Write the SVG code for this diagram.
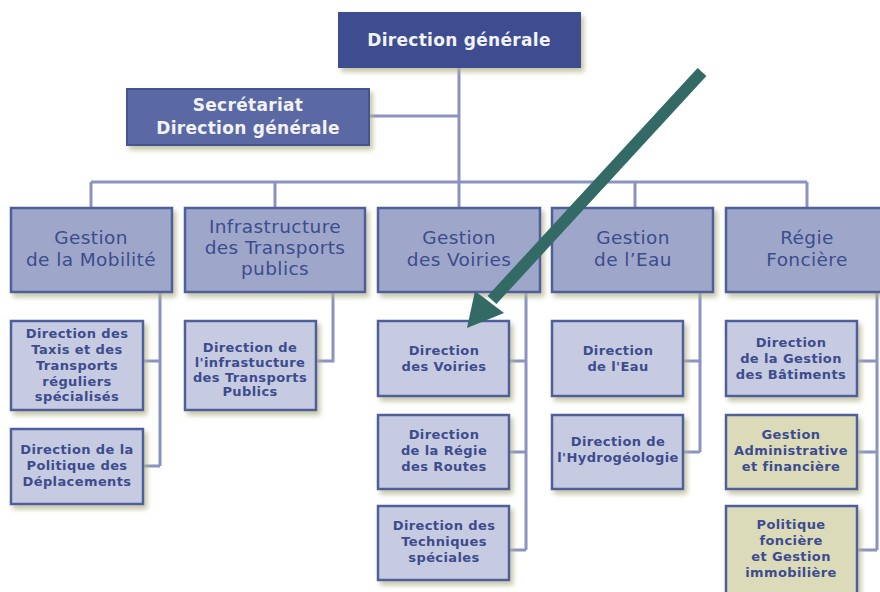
<svg xmlns="http://www.w3.org/2000/svg" width="880" height="592" viewBox="0 0 880 592">
<defs>
<filter id="sh" x="-10%" y="-10%" width="130%" height="140%">
<feDropShadow dx="3" dy="4" stdDeviation="2.5" flood-color="#b3b38a" flood-opacity="0.75"/>
</filter>
<style>
.top{fill:#3e4e90;filter:url(#sh)}
.sec{fill:#5a69a3;stroke:#45548f;stroke-width:2;filter:url(#sh)}
.l2{fill:#9ea7c9;stroke:#4f5f9e;stroke-width:2.5;filter:url(#sh)}
.l3{fill:#c6cbe1;stroke:#4f5f9e;stroke-width:2.5;filter:url(#sh)}
.l3b{fill:#dcdbb9;stroke:#4f5f9e;stroke-width:2.5;filter:url(#sh)}
.tw{font-family:"DejaVu Sans",Verdana,sans-serif;font-weight:bold;font-size:17px;letter-spacing:0.3px;fill:#f2f2f8;text-anchor:middle}
.t2{font-family:"DejaVu Sans",Verdana,sans-serif;font-size:18.5px;letter-spacing:0.4px;fill:#3c4c8e;text-anchor:middle}
.t3{font-family:"DejaVu Sans",Verdana,sans-serif;font-weight:bold;font-size:13px;letter-spacing:0.4px;fill:#3c4c8e;text-anchor:middle}
.c{fill:none;stroke:#8a93c1;stroke-width:3}
</style>
</defs>
<rect width="880" height="592" fill="#ffffff"/>
<g id="connectors">
<path class="c" d="M459 68 V182 M369 116 H459 M91 182 H807 M91 182 V208 M275 182 V208 M459 182 V208 M635 182 V208 M807 182 V208"/>
<path class="c" d="M160 292 V466 M143 361 H160 M143 466 H160"/>
<path class="c" d="M333 292 V361 H316"/>
<path class="c" d="M526 292 V550 M509 361 H526 M509 452 H526 M509 550 H526"/>
<path class="c" d="M700 292 V452 M683 361 H700 M683 452 H700"/>
<path class="c" d="M877 292 V550 M857 361 H877 M857 452 H877 M857 550 H877"/>
</g>
<g id="n-dg"><rect class="top" x="338" y="12" width="243" height="56"/><text class="tw" x="459" y="46">Direction générale</text></g>
<g id="n-sec"><rect class="sec" x="127" y="89" width="242" height="56"/><text class="tw" x="248" y="111">Secrétariat</text><text class="tw" x="248" y="134">Direction générale</text></g>
<g id="n-mob"><rect class="l2" x="11" y="208" width="161" height="84"/><text class="t2" x="91" y="244">Gestion</text><text class="t2" x="91" y="266">de la Mobilité</text></g>
<g id="n-itp"><rect class="l2" x="185" y="208" width="180" height="84"/><text class="t2" x="275" y="233">Infrastructure</text><text class="t2" x="275" y="254">des Transports</text><text class="t2" x="275" y="275">publics</text></g>
<g id="n-voi"><rect class="l2" x="378" y="208" width="162" height="84"/><text class="t2" x="459" y="244">Gestion</text><text class="t2" x="459" y="266">des Voiries</text></g>
<g id="n-eau"><rect class="l2" x="552" y="208" width="161" height="84"/><text class="t2" x="633" y="244">Gestion</text><text class="t2" x="633" y="266">de l’Eau</text></g>
<g id="n-reg"><rect class="l2" x="726" y="208" width="164" height="84"/><text class="t2" x="807" y="244">Régie</text><text class="t2" x="807" y="266">Foncière</text></g>
<g id="n-taxi"><rect class="l3" x="11" y="321" width="132" height="89"/><text class="t3" x="77" y="338">Direction des</text><text class="t3" x="77" y="354">Taxis et des</text><text class="t3" x="77" y="370">Transports</text><text class="t3" x="77" y="386">réguliers</text><text class="t3" x="77" y="401">spécialisés</text></g>
<g id="n-pol"><rect class="l3" x="11" y="429" width="132" height="75"/><text class="t3" x="77" y="454">Direction de la</text><text class="t3" x="77" y="470">Politique des</text><text class="t3" x="77" y="486">Déplacements</text></g>
<g id="n-infra"><rect class="l3" x="185" y="321" width="131" height="89"/><text class="t3" x="250" y="352">Direction de</text><text class="t3" x="250" y="367">l'infrastucture</text><text class="t3" x="250" y="382">des Transports</text><text class="t3" x="250" y="396">Publics</text></g>
<g id="n-dvoi"><rect class="l3" x="378" y="321" width="131" height="75"/><text class="t3" x="444" y="355">Direction</text><text class="t3" x="444" y="371">des Voiries</text></g>
<g id="n-route"><rect class="l3" x="378" y="415" width="131" height="74"/><text class="t3" x="444" y="439">Direction</text><text class="t3" x="444" y="455">de la Régie</text><text class="t3" x="444" y="471">des Routes</text></g>
<g id="n-tech"><rect class="l3" x="378" y="506" width="131" height="74"/><text class="t3" x="444" y="530">Direction des</text><text class="t3" x="444" y="546">Techniques</text><text class="t3" x="444" y="562">spéciales</text></g>
<g id="n-deau"><rect class="l3" x="552" y="321" width="131" height="75"/><text class="t3" x="618" y="355">Direction</text><text class="t3" x="618" y="371">de l'Eau</text></g>
<g id="n-hyd"><rect class="l3" x="552" y="415" width="131" height="74"/><text class="t3" x="618" y="446">Direction de</text><text class="t3" x="618" y="462">l'Hydrogéologie</text></g>
<g id="n-bat"><rect class="l3" x="726" y="321" width="131" height="75"/><text class="t3" x="791" y="347">Direction</text><text class="t3" x="791" y="363">de la Gestion</text><text class="t3" x="791" y="379">des Bâtiments</text></g>
<g id="n-adm"><rect class="l3b" x="726" y="415" width="131" height="74"/><text class="t3" x="791" y="439">Gestion</text><text class="t3" x="791" y="455">Administrative</text><text class="t3" x="791" y="471">et financière</text></g>
<g id="n-imm"><rect class="l3b" x="726" y="506" width="131" height="92"/><text class="t3" x="791" y="529">Politique</text><text class="t3" x="791" y="545">foncière</text><text class="t3" x="791" y="561">et Gestion</text><text class="t3" x="791" y="577">immobilière</text></g>
<g id="arrow">
<line x1="702" y1="72" x2="492" y2="300" stroke="#336a66" stroke-width="12"/>
<polygon points="467,328 475,291 504,313" fill="#336a66"/>
</g>
</svg>
